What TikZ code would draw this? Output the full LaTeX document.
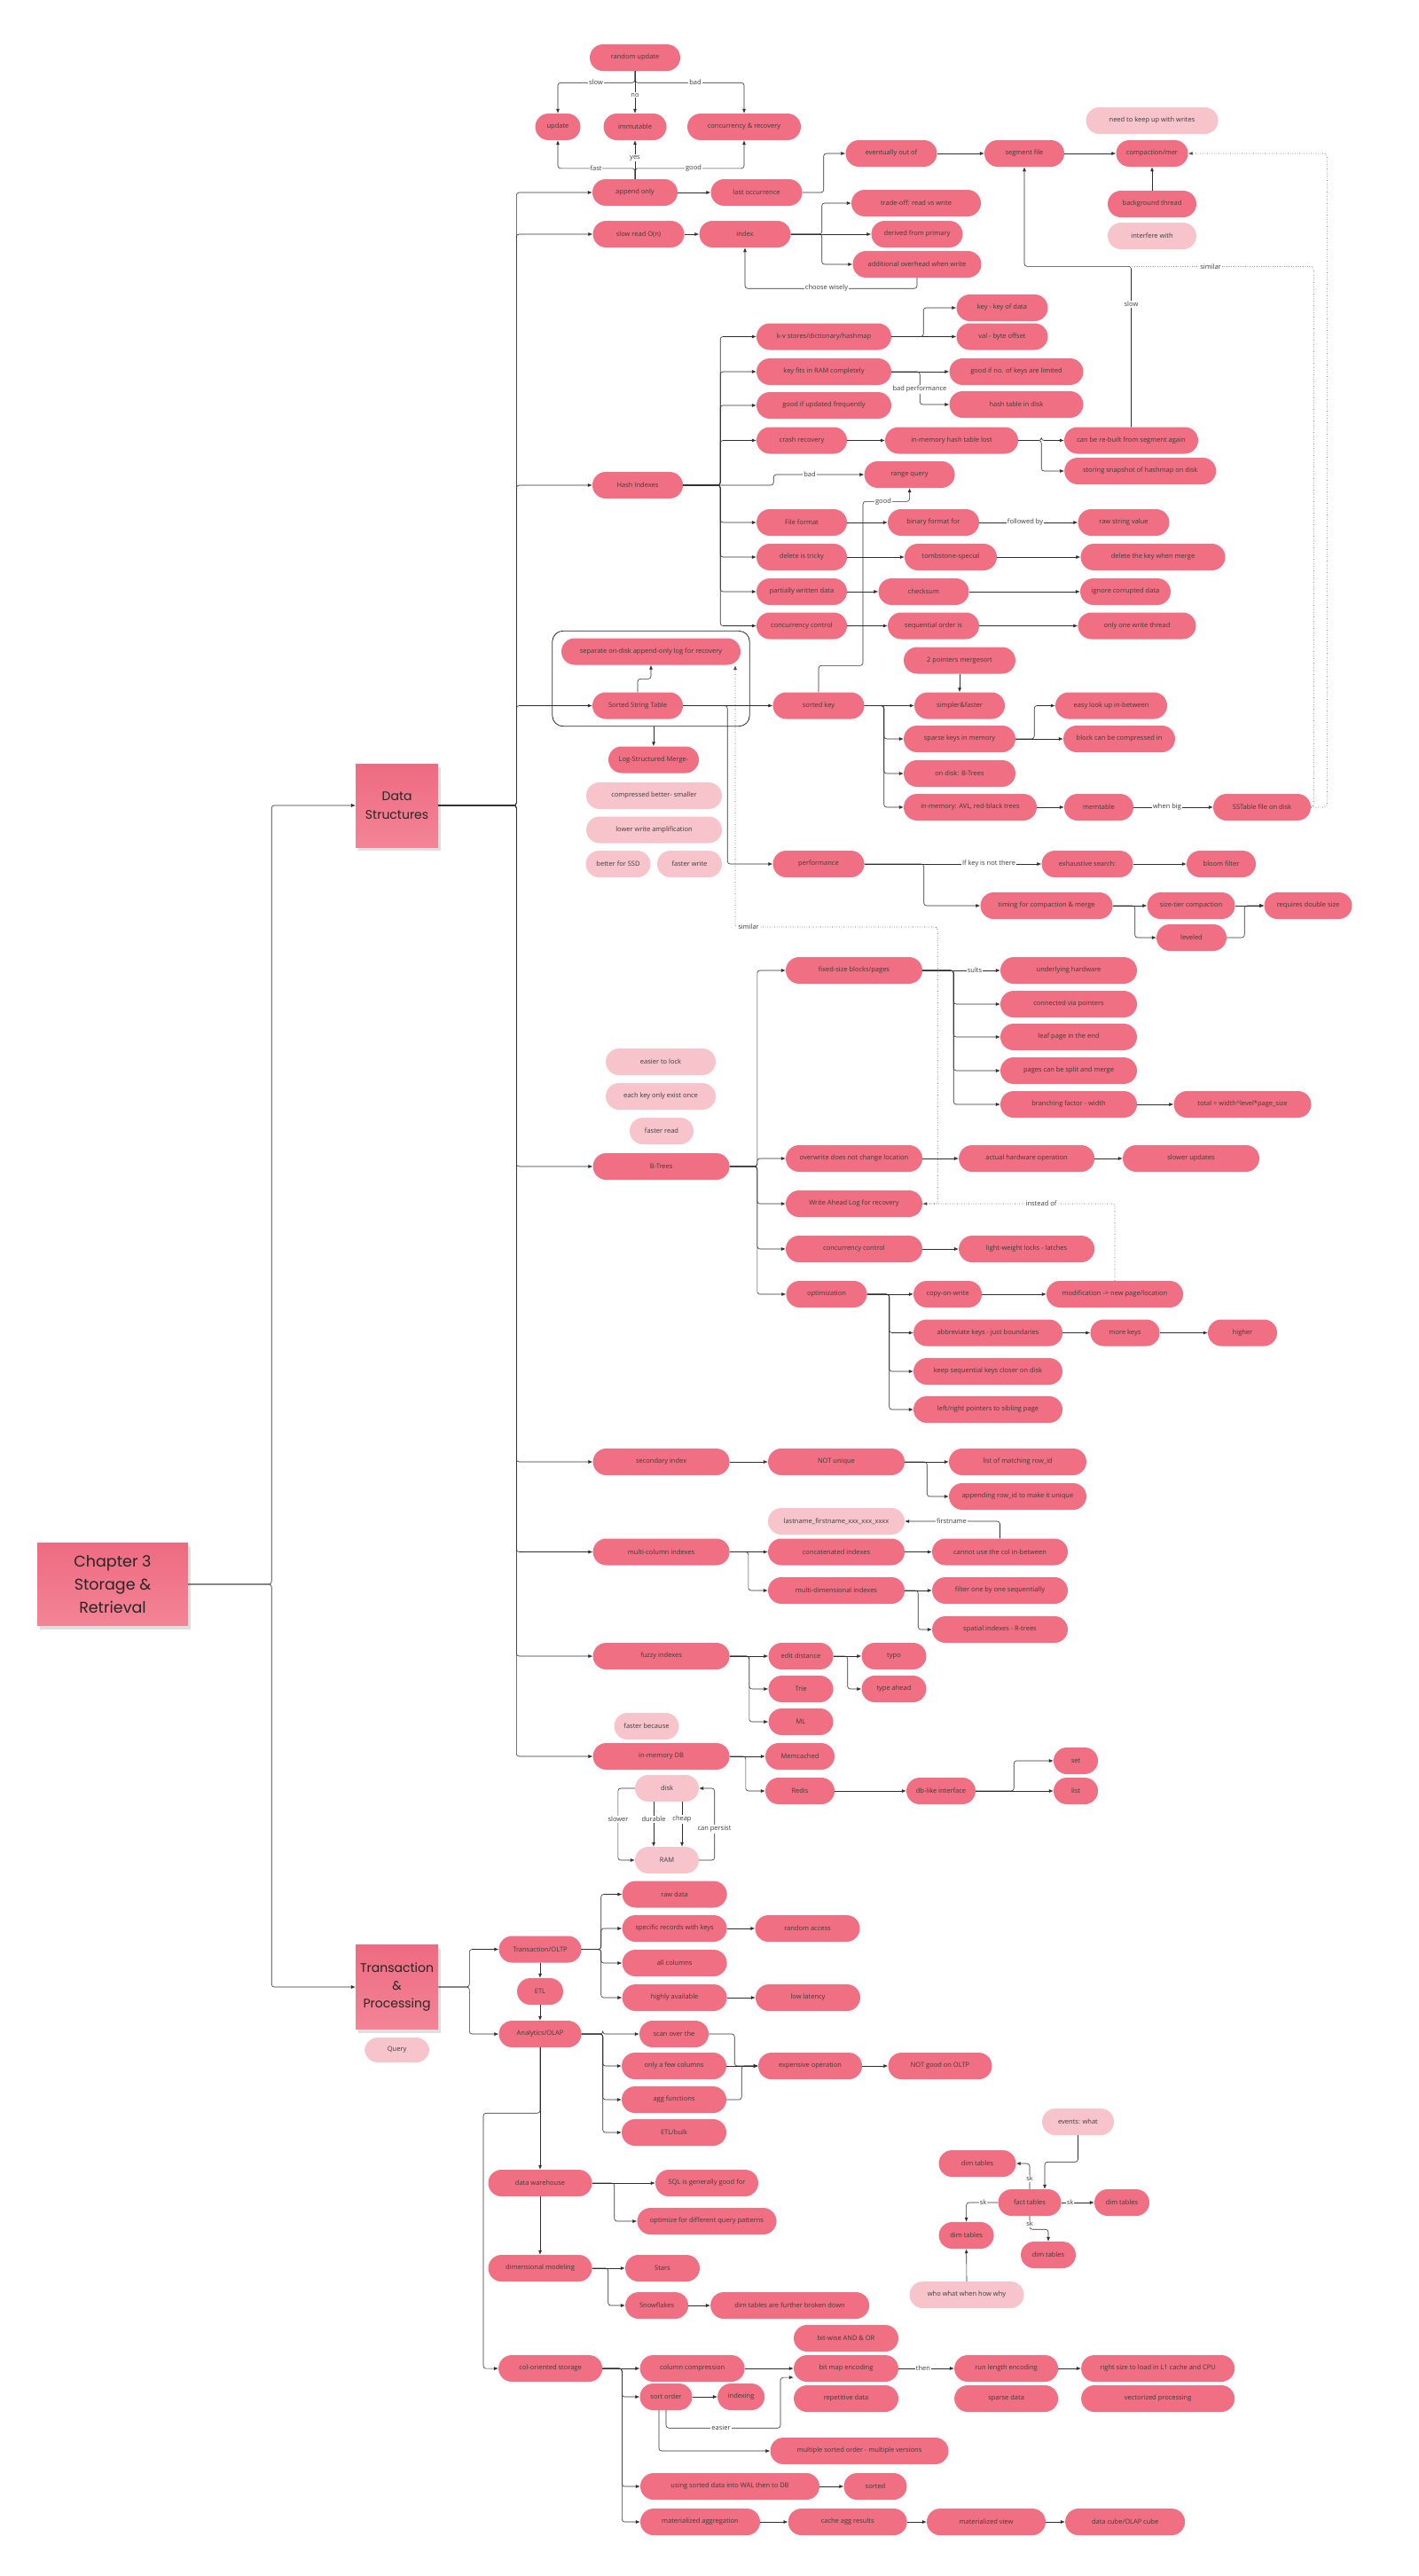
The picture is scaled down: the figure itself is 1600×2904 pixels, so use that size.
\documentclass[tikz,border=0pt]{standalone}
\usepackage{fontspec}
\setmainfont{Open Sans}
\newfontfamily\stickyfont{Poppins}
\usetikzlibrary{arrows.meta,fit,shadows}

\definecolor{boxpink}{HTML}{F06F82}
\definecolor{palepink}{HTML}{F7C4CC}
\definecolor{stickytop}{HTML}{EE6B81}
\definecolor{stickybot}{HTML}{F38496}
\definecolor{txtgray}{HTML}{3C3C3C}
\definecolor{linegray}{HTML}{2E2E2E}

\newcommand{\smallfont}{\fontsize{7.5}{9}\selectfont}

\tikzset{
    box/.style={fill=boxpink, rounded corners=15pt, minimum height=30pt, inner sep=2pt,
        text=txtgray, font=\smallfont, align=center},
    pale/.style={box, fill=palepink},
    wd/.style={minimum width=#1pt},
    sticky/.style={rectangle, top color=stickytop, bottom color=stickybot, align=center,
        text=black!85, drop shadow={opacity=0.25, shadow xshift=3pt, shadow yshift=-4pt}},
    frame/.style={draw=black!85, line width=0.8pt, rounded corners=12pt, inner xsep=10pt, inner ysep=8pt},
    link/.style={draw=linegray, line width=0.6pt, rounded corners=3pt, -{Latex[length=5pt,width=4pt]}},
    dotlink/.style={link, dotted, line width=0.8pt, draw=black!70},
    lbl/.style={fill=white, inner sep=1pt, font=\smallfont, text=txtgray},
}

\begin{document}
\begin{tikzpicture}[x=1pt, y=-1pt]

    \useasboundingbox (0,0) rectangle (1600,2904);

    % roots
    \node[sticky, minimum width=170pt, minimum height=93pt, font=\stickyfont\fontsize{17.5}{26}\selectfont] (chap) at (127,1786) {Chapter 3\\Storage \&\\Retrieval};
    \node[sticky, minimum width=93pt, minimum height=94pt, font=\stickyfont\fontsize{14}{21}\selectfont] (ds) at (447.6,908) {Data\\Structures};
    \node[sticky, minimum width=93pt, minimum height=95pt, font=\stickyfont\fontsize{14}{20}\selectfont] (tp) at (447.6,2240) {Transaction\\\&\\Processing};
    \node[pale, wd=73, minimum height=28pt] (query) at (447.6,2311) {Query};

    \draw[link] (chap.east) -- ++(94,0) |- (ds.west);
    \draw[link] (chap.east) -- ++(94,0) |- (tp.west);

    % append only / index
    \node[box, wd=102] (rnd) at (716,65) {random update};
    \node[box, wd=51] (upd) at (629,143) {update};
    \node[box, wd=71] (immut) at (716,143) {immutable};
    \node[box, wd=128] (concrec) at (839,143) {concurrency \& recovery};
    \node[box, wd=96] (append) at (716,217) {append only};
    \node[box, wd=103] (lastocc) at (853,217) {last occurrence};
    \node[box, wd=103] (outof) at (1005,173) {eventually out of};
    \node[box, wd=90] (segfile) at (1155,173) {segment file};
    \node[box, wd=81] (compact) at (1299,173) {compaction/mer};
    \node[pale, wd=149] (keepup) at (1299,136) {need to keep up with writes};
    \node[box, wd=100] (bgthread) at (1299,230) {background thread};
    \node[pale, wd=100] (interfere) at (1299,266) {interfere with};
    \node[box, wd=103] (slowread) at (720,264) {slow read O(n)};
    \node[box, wd=103] (index) at (840,264) {index};
    \node[box, wd=146] (tradeoff) at (1033,229) {trade-off: read vs write};
    \node[box, wd=103] (derived) at (1034,264) {derived from primary};
    \node[box, wd=145] (overhead) at (1034,298) {additional overhead when write};

    \draw[link] (rnd.south) -- ++(0,13) -| (upd.north);
    \draw[link] (rnd.south) -- (immut.north);
    \draw[link] (rnd.south) -- ++(0,13) -| (concrec.north);
    \draw[link] (append.north) -- ++(0,-12) -| (upd.south);
    \draw[link] (append.north) -- (immut.south);
    \draw[link] (append.north) -- ++(0,-12) -| (concrec.south);
    \draw[link] (append.east) -- (lastocc.west);
    \draw[link] (lastocc.east) -- ++(24,0) |- (outof.west);
    \draw[link] (outof.east) -- (segfile.west);
    \draw[link] (segfile.east) -- (compact.west);
    \draw[link] (bgthread.north) -- (compact.south);
    \draw[link] (slowread.east) -- (index.west);
    \draw[link] (index.east) -- ++(35,0) |- (tradeoff.west);
    \draw[link] (index.east) -- (derived.west);
    \draw[link] (index.east) -- ++(35,0) |- (overhead.west);
    \draw[link] (overhead.south) -- ++(0,12) -| (index.south);

    % hash indexes
    \node[box, wd=102] (hash) at (719,547) {Hash Indexes};
    \node[box, wd=152] (kv) at (929,379.5) {k-v stores/dictionary/hashmap};
    \node[box, wd=103] (keykey) at (1130,347) {key - key of data};
    \node[box, wd=103] (valoff) at (1130,379.5) {val - byte offset};
    \node[box, wd=152] (keyram) at (929,419) {key fits in RAM completely};
    \node[box, wd=151] (goodlim) at (1146,419) {good if no. of keys are limited};
    \node[box, wd=151] (htdisk) at (1146,456) {hash table in disk};
    \node[box, wd=152] (goodupd) at (929,457) {good if updated frequently};
    \node[box, wd=102] (crash) at (904,496.5) {crash recovery};
    \node[box, wd=150] (htlost) at (1073,496.5) {in-memory hash table lost};
    \node[box, wd=151] (rebuilt) at (1275.5,496.5) {can be re-built from segment again};
    \node[box, wd=171] (snapshot) at (1285.7,531) {storing snapshot of hashmap on disk};
    \node[box, wd=102] (range) at (1025.6,535) {range query};
    \node[box, wd=102] (fileformat) at (904,589) {File format};
    \node[box, wd=103] (binfmt) at (1052.5,589) {binary format for};
    \node[box, wd=103] (rawstr) at (1267,589) {raw string value};
    \node[box, wd=102] (deltricky) at (904,628) {delete is tricky};
    \node[box, wd=104] (tombstone) at (1072,628) {tombstone-special};
    \node[box, wd=163] (delkey) at (1300,628) {delete the key when merge};
    \node[box, wd=102] (partial) at (904,667) {partially written data};
    \node[box, wd=102] (checksum) at (1041.5,667) {checksum};
    \node[box, wd=102] (ignore) at (1269,667) {ignore corrupted data};
    \node[box, wd=102] (concctl) at (904,705.5) {concurrency control};
    \node[box, wd=103] (seqorder) at (1052.5,705.5) {sequential order is};
    \node[box, wd=133] (onewrite) at (1282,705.5) {only one write thread};

    \draw[link] (hash.east) -- ++(42,0) |- (kv.west);
    \draw[link] (hash.east) -- ++(42,0) |- (keyram.west);
    \draw[link] (hash.east) -- ++(42,0) |- (goodupd.west);
    \draw[link] (hash.east) -- ++(42,0) |- (crash.west);
    \draw[link] (hash.east) -- ++(102,0) |- (range.west);
    \draw[link] (hash.east) -- ++(42,0) |- (fileformat.west);
    \draw[link] (hash.east) -- ++(42,0) |- (deltricky.west);
    \draw[link] (hash.east) -- ++(42,0) |- (partial.west);
    \draw[link] (hash.east) -- ++(42,0) |- (concctl.west);
    \draw[link] (kv.east) -- ++(36,0) |- (keykey.west);
    \draw[link] (kv.east) -- (valoff.west);
    \draw[link] (keyram.east) -- (goodlim.west);
    \draw[link] (keyram.east) -- ++(32,0) |- (htdisk.west);
    \draw[link] (crash.east) -- (htlost.west);
    \draw[link] (htlost.east) -- ++(26,0) |- (rebuilt.west);
    \draw[link] (htlost.east) -- ++(26,0) |- (snapshot.west);
    \draw[link] (rebuilt.north) -- ++(0,-181) -| (segfile.south);
    \draw[link] (fileformat.east) -- (binfmt.west);
    \draw[link] (binfmt.east) -- (rawstr.west);
    \draw[link] (deltricky.east) -- (tombstone.west);
    \draw[link] (tombstone.east) -- (delkey.west);
    \draw[link] (partial.east) -- (checksum.west);
    \draw[link] (checksum.east) -- (ignore.west);
    \draw[link] (concctl.east) -- (seqorder.west);
    \draw[link] (seqorder.east) -- (onewrite.west);

    % sorted string table
    \node[box, wd=202] (seplog) at (734,734.5) {separate on-disk append-only log for recovery};
    \node[box, wd=102] (sst) at (719,795.5) {Sorted String Table};
    \node[frame, fit=(seplog)(sst)] (sstbox) {};
    \node[box, wd=102] (lsm) at (737,856.5) {Log-Structured Merge-};
    \node[pale, wd=153] (compr) at (737.5,897) {compressed better- smaller};
    \node[pale, wd=153] (lowamp) at (737.5,935.5) {lower write amplification};
    \node[pale, wd=73] (ssd) at (697,974) {better for SSD};
    \node[pale, wd=73] (fastw) at (777.5,974) {faster write};
    \node[box, wd=103] (sortedkey) at (923,795.5) {sorted key};
    \node[box, wd=126] (ptrs) at (1082,744.5) {2 pointers mergesort};
    \node[box, wd=102] (simpler) at (1082,795.5) {simpler\&faster};
    \node[box, wd=126] (sparse) at (1082,833) {sparse keys in memory};
    \node[box, wd=126] (easylook) at (1253,795.5) {easy look up in-between};
    \node[box, wd=126] (blockcomp) at (1262,833) {block can be compressed in};
    \node[box, wd=126] (ondisk) at (1082,872) {on disk: B-Trees};
    \node[box, wd=150] (inmem) at (1094,910) {in-memory: AVL, red-black trees};
    \node[box, wd=78] (memtable) at (1239,910) {memtable};
    \node[box, wd=110] (sstfile) at (1423,910) {SSTable file on disk};
    \node[box, wd=103] (perf) at (923,974) {performance};
    \node[box, wd=103] (exhaust) at (1226,974) {exhaustive search:};
    \node[box, wd=78] (bloom) at (1377,974) {bloom filter};
    \node[box, wd=149] (timing) at (1180,1021) {timing for compaction \& merge};
    \node[box, wd=99] (sizetier) at (1343,1021) {size-tier compaction};
    \node[box, wd=79] (leveled) at (1343.5,1057) {leveled};
    \node[box, wd=99] (dblsize) at (1475,1021) {requires double size};

    \coordinate (simjoin) at (1275.5,300.5);
    \coordinate (simlow) at (829,1045);
    \coordinate (seplogin) at (829,750);

    \draw[link] (sst.north) -- ++(0,-15) -| (seplog.south);
    \draw[link] (sstbox.south -| lsm.north) -- (lsm.north);
    \draw[link] (sst.east) -- (sortedkey.west);
    \draw[link] (sst.east) -- ++(50,0) |- (perf.west);
    \draw[link] (sortedkey.north) -- ++(0,-30) -| ++(50,-185) -| (range.south);
    \draw[link] (sortedkey.east) -- (simpler.west);
    \draw[link] (sortedkey.east) -- ++(22,0) |- (sparse.west);
    \draw[link] (sortedkey.east) -- ++(22,0) |- (ondisk.west);
    \draw[link] (sortedkey.east) -- ++(22,0) |- (inmem.west);
    \draw[link] (ptrs.south) -- (simpler.north);
    \draw[link] (sparse.east) -- ++(21,0) |- (easylook.west);
    \draw[link] (sparse.east) -- (blockcomp.west);
    \draw[link] (inmem.east) -- (memtable.west);
    \draw[link] (memtable.east) -- (sstfile.west);
    \draw[dotlink] (sstfile.east) -- ++(18,0) |- (compact.east);
    \draw[dotlink, -] (sstfile.east) -- ++(3,0) |- (simjoin);
    \draw[link] (perf.east) -- (exhaust.west);
    \draw[link] (exhaust.east) -- (bloom.west);
    \draw[link] (perf.east) -- ++(67,0) |- (timing.west);
    \draw[link] (timing.east) -- (sizetier.west);
    \draw[link] (timing.east) -- ++(25,0) |- (leveled.west);
    \draw[link] (sizetier.east) -- (dblsize.west);
    \draw[link] (leveled.east) -- ++(20,0) |- (dblsize.west);

    % b-trees
    \node[box, wd=154] (btree) at (745.6,1315) {B-Trees};
    \node[pale, wd=124] (lock) at (745,1197) {easier to lock};
    \node[pale, wd=124] (oncekey) at (745,1236) {each key only exist once};
    \node[pale, wd=72] (fastread) at (746,1275) {faster read};
    \node[box, wd=154] (fixed) at (963,1094) {fixed-size blocks/pages};
    \node[box, wd=154] (hardware) at (1205,1094) {underlying hardware};
    \node[box, wd=154] (pointers) at (1205,1132) {connected via pointers};
    \node[box, wd=154] (leaf) at (1205,1169) {leaf page in the end};
    \node[box, wd=154] (split) at (1205,1207) {pages can be split and merge};
    \node[box, wd=154] (branching) at (1205,1245) {branching factor - width};
    \node[box, wd=155] (total) at (1401,1245) {total = width\textasciicircum level*page\_size};
    \node[box, wd=154] (overwrite) at (963,1306) {overwrite does not change location};
    \node[box, wd=153] (actualhw) at (1157.6,1306) {actual hardware operation};
    \node[box, wd=154] (slowerupd) at (1343,1306) {slower updates};
    \node[box, wd=154] (wal) at (963,1357) {Write Ahead Log for recovery};
    \node[box, wd=154] (btconc) at (963,1408) {concurrency control};
    \node[box, wd=153] (latches) at (1157.6,1408) {light-weight locks - latches};
    \node[box, wd=91] (optim) at (932,1459) {optimization};
    \node[box, wd=77] (cow) at (1068.5,1459) {copy-on-write};
    \node[box, wd=154] (modif) at (1257,1459) {modification -> new page/location};
    \node[box, wd=168] (abbrev) at (1114,1502.5) {abbreviate keys - just boundaries};
    \node[box, wd=78] (morekeys) at (1268.5,1502.5) {more keys};
    \node[box, wd=78] (higher) at (1401,1502.5) {higher};
    \node[box, wd=168] (seqkeys) at (1114,1546) {keep sequential keys closer on disk};
    \node[box, wd=168] (sibling) at (1114,1589) {left/right pointers to sibling page};

    \draw[link] (btree.east) -- ++(31,0) |- (fixed.west);
    \draw[link] (btree.east) -- ++(31,0) |- (overwrite.west);
    \draw[link] (btree.east) -- ++(31,0) |- (wal.west);
    \draw[link] (btree.east) -- ++(31,0) |- (btconc.west);
    \draw[link] (btree.east) -- ++(31,0) |- (optim.west);
    \draw[link] (fixed.east) -- (hardware.west);
    \draw[link] (fixed.east) -- ++(35,0) |- (pointers.west);
    \draw[link] (fixed.east) -- ++(35,0) |- (leaf.west);
    \draw[link] (fixed.east) -- ++(35,0) |- (split.west);
    \draw[link] (fixed.east) -- ++(35,0) |- (branching.west);
    \draw[link] (branching.east) -- (total.west);
    \draw[link] (overwrite.east) -- (actualhw.west);
    \draw[link] (actualhw.east) -- (slowerupd.west);
    \draw[link] (btconc.east) -- (latches.west);
    \draw[link] (optim.east) -- (cow.west);
    \draw[link] (optim.east) -- ++(25,0) |- (abbrev.west);
    \draw[link] (optim.east) -- ++(25,0) |- (seqkeys.west);
    \draw[link] (optim.east) -- ++(25,0) |- (sibling.west);
    \draw[link] (cow.east) -- (modif.west);
    \draw[link] (abbrev.east) -- (morekeys.west);
    \draw[link] (morekeys.east) -- (higher.west);
    \draw[dotlink] (modif.north) |- (wal.east);
    \draw[dotlink] (wal.east) -- ++(17,0) |- (simlow) -- (seplogin);

    % other indexes
    \node[box, wd=154] (secidx) at (745.6,1648) {secondary index};
    \node[box, wd=154] (notuniq) at (943,1648) {NOT unique};
    \node[box, wd=155] (listrow) at (1147.5,1648) {list of matching row\_id};
    \node[box, wd=155] (appendrow) at (1147.5,1687) {appending row\_id to make it unique};
    \node[pale, wd=154] (lastname) at (943,1715) {lastname\_firstname\_xxx\_xxx\_xxxx};
    \node[box, wd=154] (multicol) at (745.6,1749.5) {multi-column indexes};
    \node[box, wd=154] (concat) at (943,1749.5) {concatenated indexes};
    \node[box, wd=153] (cannot) at (1127.5,1749.5) {cannot use the col in-between};
    \node[box, wd=154] (multidim) at (943,1793) {multi-dimensional indexes};
    \node[box, wd=153] (filterseq) at (1127.5,1793) {filter one by one sequentially};
    \node[box, wd=153] (spatial) at (1127.5,1837) {spatial indexes - R-trees};
    \node[box, wd=154] (fuzzy) at (745.6,1867) {fuzzy indexes};
    \node[box, wd=73] (editdist) at (903,1867) {edit distance};
    \node[box, wd=73] (typo) at (1008,1867) {typo};
    \node[box, wd=73] (trie) at (903,1904) {Trie};
    \node[box, wd=73] (typeahead) at (1008,1904) {type ahead};
    \node[box, wd=73] (ml) at (903,1941) {ML};

    \draw[link] (secidx.east) -- (notuniq.west);
    \draw[link] (notuniq.east) -- (listrow.west);
    \draw[link] (notuniq.east) -- ++(25,0) |- (appendrow.west);
    \draw[link] (multicol.east) -- (concat.west);
    \draw[link] (multicol.east) -- ++(21,0) |- (multidim.west);
    \draw[link] (concat.east) -- (cannot.west);
    \draw[link] (cannot.north) |- (lastname.east);
    \draw[link] (multidim.east) -- (filterseq.west);
    \draw[link] (multidim.east) -- ++(15,0) |- (spatial.west);
    \draw[link] (fuzzy.east) -- (editdist.west);
    \draw[link] (fuzzy.east) -- ++(22,0) |- (trie.west);
    \draw[link] (fuzzy.east) -- ++(22,0) |- (ml.west);
    \draw[link] (editdist.east) -- (typo.west);
    \draw[link] (editdist.east) -- ++(16,0) |- (typeahead.west);

    % in-memory
    \node[pale, wd=73] (fasterbc) at (729,1946) {faster because};
    \node[box, wd=154] (inmemdb) at (745.6,1980) {in-memory DB};
    \node[box, wd=78] (memcached) at (902,1980) {Memcached};
    \node[box, wd=78] (redis) at (902,2019) {Redis};
    \node[box, wd=78] (dblike) at (1061,2019) {db-like interface};
    \node[box, wd=50] (set) at (1213,1985) {set};
    \node[box, wd=50] (list) at (1213,2019) {list};
    \node[pale, wd=72] (disk) at (752,2016) {disk};
    \node[pale, wd=72] (ram) at (752,2097) {RAM};

    \draw[link] (inmemdb.east) -- (memcached.west);
    \draw[link] (inmemdb.east) -- ++(18,0) |- (redis.west);
    \draw[link] (redis.east) -- (dblike.west);
    \draw[link] (dblike.east) -- ++(43,0) |- (set.west);
    \draw[link] (dblike.east) -- (list.west);
    \draw[link] (disk.west) -- ++(-19,0) |- (ram.west);
    \draw[link] ([xshift=-15pt]disk.south) -- ([xshift=-15pt]ram.north);
    \draw[link] ([xshift=17pt]disk.south) -- ([xshift=17pt]ram.north);
    \draw[link] (ram.east) -- ++(17.5,0) |- (disk.east);

    \draw[link] (ds.east) -- ++(88,0) |- (append.west);
    \draw[link] (ds.east) -- ++(88,0) |- (slowread.west);
    \draw[link] (ds.east) -- ++(88,0) |- (hash.west);
    \draw[link] (ds.east) -- ++(88,0) |- (sst.west);
    \draw[link] (ds.east) -- ++(88,0) |- (btree.west);
    \draw[link] (ds.east) -- ++(88,0) |- (secidx.west);
    \draw[link] (ds.east) -- ++(88,0) |- (multicol.west);
    \draw[link] (ds.east) -- ++(88,0) |- (fuzzy.west);
    \draw[link] (ds.east) -- ++(88,0) |- (inmemdb.west);

    % transaction & processing
    \node[box, wd=93] (oltp) at (609,2197.5) {Transaction/OLTP};
    \node[box, wd=52] (etl) at (609,2245) {ETL};
    \node[box, wd=93] (olap) at (609,2293) {Analytics/OLAP};
    \node[box, wd=118] (rawdata) at (760.6,2135.5) {raw data};
    \node[box, wd=118] (specific) at (760.6,2174) {specific records with keys};
    \node[box, wd=118] (randacc) at (910.5,2174) {random access};
    \node[box, wd=118] (allcols) at (760.6,2213) {all columns};
    \node[box, wd=118] (highavail) at (760.6,2252) {highly available};
    \node[box, wd=118] (lowlat) at (911,2252) {low latency};
    \node[box, wd=78] (scan) at (760,2293) {scan over the};
    \node[box, wd=118] (fewcols) at (760,2329) {only a few columns};
    \node[box, wd=118] (aggfn) at (760,2367) {agg functions};
    \node[box, wd=118] (etlbulk) at (760,2404) {ETL/bulk};
    \node[box, wd=117] (expensive) at (913.5,2329) {expensive operation};
    \node[box, wd=117] (notgood) at (1060,2329) {NOT good on OLTP};

    \draw[link] (tp.east) -- ++(35,0) |- (oltp.west);
    \draw[link] (tp.east) -- ++(35,0) |- (olap.west);
    \draw[link] (oltp.south) -- (etl.north);
    \draw[link] (etl.south) -- (olap.north);
    \draw[link] (oltp.east) -- ++(22,0) |- (rawdata.west);
    \draw[link] (oltp.east) -- ++(22,0) |- (specific.west);
    \draw[link] (oltp.east) -- ++(22,0) |- (allcols.west);
    \draw[link] (oltp.east) -- ++(22,0) |- (highavail.west);
    \draw[link] (specific.east) -- (randacc.west);
    \draw[link] (highavail.east) -- (lowlat.west);
    \draw[link] (olap.east) -- ++(24,0) |- (scan.west);
    \draw[link] (olap.east) -- ++(24,0) |- (fewcols.west);
    \draw[link] (olap.east) -- ++(24,0) |- (aggfn.west);
    \draw[link] (olap.east) -- ++(24,0) |- (etlbulk.west);
    \draw[link] (scan.east) -- ++(29,0) |- (expensive.west);
    \draw[link] (fewcols.east) -- (expensive.west);
    \draw[link] (aggfn.east) -- ++(17,0) |- (expensive.west);
    \draw[link] (expensive.east) -- (notgood.west);

    % warehouse & star schema
    \node[box, wd=117] (dw) at (609,2461) {data warehouse};
    \node[box, wd=116] (sqlgood) at (797,2461) {SQL is generally good for};
    \node[box, wd=157] (optqp) at (797,2504) {optimize for different query patterns};
    \node[pale, wd=81] (events) at (1215.5,2392) {events: what};
    \node[box, wd=87] (dimtl) at (1102,2439) {dim tables};
    \node[box, wd=71] (fact) at (1161,2483) {fact tables};
    \node[box, wd=62] (dimr) at (1265,2483) {dim tables};
    \node[box, wd=62] (dimbl) at (1089.6,2520) {dim tables};
    \node[box, wd=62] (dimbr) at (1182,2542) {dim tables};
    \node[pale, wd=129] (who) at (1090,2587) {who what when how why};
    \node[box, wd=117] (dimmod) at (609,2557) {dimensional modeling};
    \node[box, wd=84] (stars) at (747,2557) {Stars};
    \node[box, wd=71] (snow) at (740.6,2599) {Snowflakes};
    \node[box, wd=179] (brokendown) at (890.6,2599) {dim tables are further broken down};

    \draw[link] (olap.south) -- (dw.north);
    \draw[link] (dw.south) -- (dimmod.north);
    \draw[link] (dw.east) -- (sqlgood.west);
    \draw[link] (dw.east) -- ++(25,0) |- (optqp.west);
    \draw[link] (events.south) -- ++(0,30) -| ([xshift=17pt]fact.north);
    \draw[link] (fact.north) |- (dimtl.east);
    \draw[link] (fact.west) -| (dimbl.north);
    \draw[link] (fact.east) -- (dimr.west);
    \draw[link] (fact.south) -- ++(0,15) -| (dimbr.north);
    \draw[link] (who.north) -- (dimbl.south);
    \draw[link] (dimmod.east) -- (stars.west);
    \draw[link] (dimmod.east) -- ++(18,0) |- (snow.west);
    \draw[link] (snow.east) -- (brokendown.west);

    % column storage
    \node[box, wd=118] (bitwise) at (954,2636) {bit-wise AND \& OR};
    \node[box, wd=117] (colstore) at (620.6,2670) {col-oriented storage};
    \node[box, wd=118] (colcomp) at (780.6,2670) {column compression};
    \node[box, wd=118] (bitmap) at (954,2670) {bit map encoding};
    \node[box, wd=117] (runlen) at (1134.6,2670) {run length encoding};
    \node[box, wd=173] (rightsize) at (1305.6,2670) {right size to load in L1 cache and CPU};
    \node[box, wd=118] (repet) at (954,2704) {repetitive data};
    \node[box, wd=117] (sparsed) at (1134.6,2704) {sparse data};
    \node[box, wd=173] (vector) at (1305.6,2704) {vectorized processing};
    \node[box, wd=59] (sortorder) at (751,2702) {sort order};
    \node[box, wd=53] (indexing) at (835.6,2702) {indexing};
    \node[box, wd=201] (multisort) at (969,2763) {multiple sorted order - multiple versions};
    \node[box, wd=202] (walsort) at (823,2803) {using sorted data into WAL then to DB};
    \node[box, wd=71] (sortedn) at (987,2803) {sorted};
    \node[box, wd=135] (matagg) at (789.5,2843) {materialized aggregation};
    \node[box, wd=134] (cacheagg) at (955.7,2843) {cache agg results};
    \node[box, wd=134] (matview) at (1112,2843) {materialized view};
    \node[box, wd=135] (datacube) at (1268.6,2843) {data cube/OLAP cube};

    \draw[link] (olap.south) -- ++(0,74) -| ++(-64,288) -- (colstore.west);
    \draw[link] (colstore.east) -- (colcomp.west);
    \draw[link] (colstore.east) -- ++(22,0) |- (sortorder.west);
    \draw[link] (colstore.east) -- ++(22,0) |- (walsort.west);
    \draw[link] (colstore.east) -- ++(22,0) |- (matagg.west);
    \draw[link] (colcomp.east) -- (bitmap.west);
    \draw[link] (bitmap.east) -- (runlen.west);
    \draw[link] (runlen.east) -- (rightsize.west);
    \draw[link] (sortorder.east) -- (indexing.west);
    \draw[link] (sortorder.south) -- ++(0,20) -| ++(129,-57) -- ([yshift=-10pt]bitmap.west);
    \draw[link] ([xshift=-8pt]sortorder.south) |- (multisort.west);
    \draw[link] (walsort.east) -- (sortedn.west);
    \draw[link] (matagg.east) -- (cacheagg.west);
    \draw[link] (cacheagg.east) -- (matview.west);
    \draw[link] (matview.east) -- (datacube.west);

    % edge labels
    \node[lbl] (lslow) at (672,93) {slow};
    \node[lbl] (lno) at (716,107) {no};
    \node[lbl] (lbad) at (784,93) {bad};
    \node[lbl] (lfast) at (672,190) {fast};
    \node[lbl] (lyes) at (716,178) {yes};
    \node[lbl] (lgood) at (782,190) {good};
    \node[lbl] (lchoose) at (932,325) {choose wisely};
    \node[lbl] (lsim1) at (1365,300.5) {similar};
    \node[lbl] (lslow2) at (1275.5,343) {slow};
    \node[lbl] (lbad2) at (913,535) {bad};
    \node[lbl] (lgood2) at (996,565.5) {good};
    \node[lbl] (lbadperf) at (1037,439) {bad performance};
    \node[lbl] (lfollow) at (1156,589) {followed by};
    \node[lbl] (lbig) at (1316,910) {when big};
    \node[lbl] (lkey) at (1115,974) {If key is not there};
    \node[lbl] (lsim2) at (844,1045) {similar};
    \node[lbl] (lsuits) at (1099,1094) {sults};
    \node[lbl] (linstead) at (1174,1357) {instead of};
    \node[lbl] (lfirst) at (1073,1715) {firstname};
    \node[lbl] (lslower) at (697,2051) {slower};
    \node[lbl] (ldurable) at (737,2051) {durable};
    \node[lbl] (lcheap) at (769,2051) {cheap};
    \node[lbl] (lpersist) at (805.5,2062) {can persist};
    \node[lbl] (lsk1) at (1161,2456) {sk};
    \node[lbl] (lsk2) at (1108.5,2483) {sk};
    \node[lbl] (lsk3) at (1206.6,2483) {sk};
    \node[lbl] (lsk4) at (1161,2507) {sk};
    \node[lbl] (leasier) at (813,2737) {easier};
    \node[lbl] (lthen) at (1041,2670) {then};

\end{tikzpicture}
\end{document}
